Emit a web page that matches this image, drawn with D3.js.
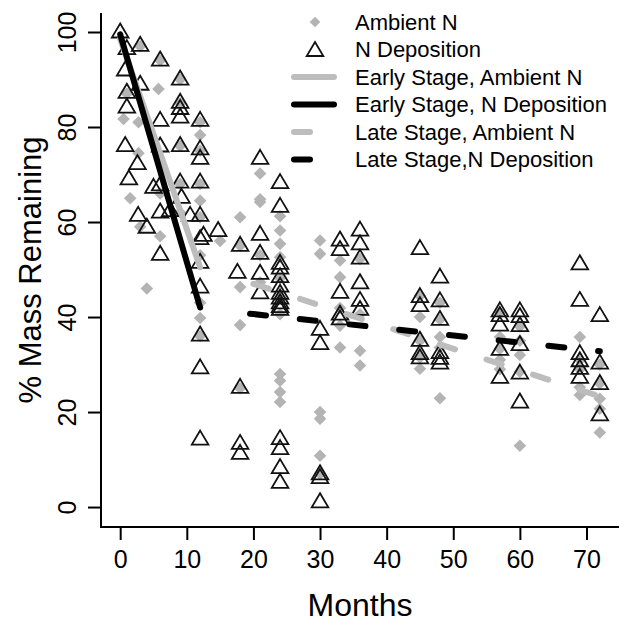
<!DOCTYPE html>
<html>
<head>
<meta charset="utf-8">
<script src="https://cdn.jsdelivr.net/npm/d3@7"></script>
<style>
  body { margin: 0; background: #fff; }
  svg { font-family: "Liberation Sans", Arial, sans-serif; }
</style>
</head>
<body>
<div id="chart"></div>
<script>
// Ambient N litter bags: [month, % mass remaining]
const ambientN = [
  [3, 97], [6, 94], [9, 90], [1, 87], [5.75, 88], [9, 85], [0.5, 81.7], [2.75, 81], [12, 81],
  [12, 78.3], [9, 76], [12, 75], [2.75, 74.5], [9, 68], [12, 68], [6, 66], [1.5, 65], [12, 64.5],
  [9, 62], [12, 61], [3, 59], [6, 57], [12, 53], [4, 46], [12, 43], [12, 39.8], [12, 36],
  [15, 56], [18, 61], [18, 55], [18, 46.3], [18, 38.3], [18, 25],
  [21, 70.2], [21, 64.8], [21, 64.2], [21, 53], [21, 47.3],
  [24, 61.2], [24, 58.2], [24, 55.4], [24, 52.6], [24, 48.2], [24, 44], [24, 40.6],
  [24, 28], [24, 26.6], [24, 24.2], [24, 22.1],
  [30, 56.1], [30, 53.3], [30, 20], [30, 18.6], [30, 10.8], [30, 7],
  [33, 51.9], [33, 48.4], [33, 41.9], [33, 38.2], [33, 33.6],
  [36, 52.2], [36, 40.6], [36, 32.9], [36, 29.8],
  [45, 44.5], [45, 40], [45, 35], [45, 31.5], [45, 29.1],
  [48, 43], [48, 39.5], [48, 35.8], [48, 33.6], [48, 22.9],
  [57, 41], [57, 35.8], [57, 33.3], [57, 31], [57, 29],
  [60, 38], [60, 35], [60, 32], [60, 28.5], [60, 12.9],
  [69, 35.8], [69, 31], [69, 29], [69, 25.2], [69, 23.6],
  [72, 30], [72, 26], [72, 22.8], [72, 20.7], [72, 15.7]
];

// N Deposition litter bags
const nDeposition = [
  [0, 100], [1, 96.5], [3, 97.2], [6, 94.1], [0.75, 92], [3, 89], [9, 90.1], [1, 87.3],
  [1, 84.2], [9, 85.2], [9, 83.9], [9, 82.1], [6, 81.4], [12, 81.4], [0.75, 76.1], [6, 76],
  [9, 76.1], [12, 75.4], [12, 73.4], [2.6, 72.3], [1.3, 69.1], [5, 67.3], [6, 67.8],
  [9, 68.4], [12, 68.4], [9.2, 65.2], [2.7, 61.4], [6, 62.1], [7.5, 62.4], [10.5, 61.4],
  [12, 61.4], [4, 58.9], [14.7, 58.2], [12.5, 57.2], [12, 56.5], [6, 53.2], [12, 51.5],
  [12, 46.3], [12, 36.2], [12, 29.3], [12, 14.3],
  [18, 55.1], [17.6, 49.4], [18, 25.2], [18, 13.4], [18, 11.3],
  [21, 73.4], [21, 57.4], [21, 53.4], [21, 49.2], [21, 45.1],
  [24, 68.3], [24, 63.3], [24, 51.3], [24, 50.3], [24, 48.5], [24, 46.5], [24, 45],
  [24, 44], [24, 43], [24, 42.2], [24, 41.6], [24, 14.4], [24, 12.3], [24, 8.3], [24, 5.2],
  [30, 37.4], [30, 34.4], [30, 7], [30, 6.2], [30, 1.1],
  [33, 56.2], [33, 54.2], [33, 45.2], [33, 40.6], [33, 39.6],
  [36, 58.3], [36, 55.4], [36, 52.4], [36, 47.2], [36, 43.5], [36, 41.6],
  [45, 54.4], [45, 44.3], [45, 42.4], [45, 35.1], [45, 32.3], [45, 31.4],
  [48, 48.4], [48, 43.4], [48, 39.5], [48, 32.5], [48, 31.3], [48, 30.3],
  [57, 41.3], [57, 40.3], [57, 38.3], [57, 33.2], [57, 27.3],
  [60, 41.3], [60, 40.1], [60, 38.2], [60, 34.2], [60, 28.2], [60, 22.1],
  [69, 51.2], [69, 43.5], [69, 32.3], [69, 30.8], [69, 29.2], [69, 27.3],
  [72, 40.3], [72, 30.3], [72, 26], [72, 19.4]
];

// fitted lines: [month, % mass remaining] end points
const earlyAmbient = [[0, 98.5], [12, 50.5]];
const earlyNDep = [[0, 99.5], [12, 42]];
const lateAmbient = [[20, 47], [72, 23.3]];
const lateNDep = [[19.5, 40.7], [72, 32.8]];

const xTicks = [0, 10, 20, 30, 40, 50, 60, 70];
const yTicks = [0, 20, 40, 60, 80, 100];

const legendLabels = [
  'Ambient N', 'N Deposition', 'Early Stage, Ambient N',
  'Early Stage, N Deposition', 'Late Stage, Ambient N', 'Late Stage,N Deposition'
];

const width = 619, height = 624;
const grey = '#b4b4b4';
const lineGrey = '#bdbdbd';

const svg = d3.select('#chart').append('svg')
  .attr('width', width)
  .attr('height', height);

const x = d3.scaleLinear().domain([-2.88, 74.88]).range([101, 619]);
const y = d3.scaleLinear().domain([-4.2, 104]).range([527, 13]);

const diamond = 'M0,-6.3L6.3,0L0,6.3L-6.3,0Z';
const triangle = 'M0,-8.5L8.3,5.5L-8.3,5.5Z';

// L shaped box
svg.append('path')
  .attr('d', `M${x.range()[0]},${y.range()[1]}V${y.range()[0]}H${x.range()[1]}`)
  .attr('fill', 'none')
  .attr('stroke', '#000')
  .attr('stroke-width', 2);

const xAxis = svg.append('g')
  .attr('transform', `translate(0,${y.range()[0]})`)
  .call(d3.axisBottom(x).tickValues(xTicks).tickSize(13).tickPadding(10));
xAxis.select('.domain').remove();
xAxis.selectAll('line').attr('stroke-width', 2);
xAxis.selectAll('text').attr('font-size', 25).attr('fill', '#000')
  .style('font-family', '"Liberation Sans", Arial, sans-serif');

const yAxis = svg.append('g')
  .attr('transform', `translate(${x.range()[0]},0)`)
  .call(d3.axisLeft(y).tickValues(yTicks).tickSize(13));
yAxis.select('.domain').remove();
yAxis.selectAll('line').attr('stroke-width', 2);
yAxis.selectAll('text')
  .attr('font-size', 25).attr('fill', '#000')
  .style('font-family', '"Liberation Sans", Arial, sans-serif')
  .attr('transform', 'rotate(-90)')
  .attr('text-anchor', 'middle')
  .attr('x', 0).attr('y', -25).attr('dy', 0);

svg.append('text')
  .attr('x', (x.range()[0] + x.range()[1]) / 2)
  .attr('y', 616)
  .attr('text-anchor', 'middle')
  .attr('font-size', 32)
  .text('Months');

svg.append('text')
  .attr('transform', `translate(41,${(y.range()[0] + y.range()[1]) / 2}) rotate(-90)`)
  .attr('text-anchor', 'middle')
  .attr('font-size', 31)
  .text('% Mass Remaining');

// points
svg.append('g').selectAll('path')
  .data(ambientN)
  .join('path')
  .attr('d', diamond)
  .attr('transform', d => `translate(${x(d[0])},${y(d[1])})`)
  .attr('fill', grey);

svg.append('g').selectAll('path')
  .data(nDeposition)
  .join('path')
  .attr('d', triangle)
  .attr('transform', d => `translate(${x(d[0])},${y(d[1])})`)
  .attr('fill', 'none')
  .attr('stroke', '#111')
  .attr('stroke-width', 1.8);

// fitted lines
const line = d3.line().x(d => x(d[0])).y(d => y(d[1]));
const fits = [
  { data: earlyAmbient, color: lineGrey, dash: null },
  { data: earlyNDep, color: '#000', dash: null },
  { data: lateAmbient, color: lineGrey, dash: '16,33' },
  { data: lateNDep, color: '#000', dash: '16,34' }
];
svg.append('g').selectAll('path')
  .data(fits)
  .join('path')
  .attr('d', d => line(d.data))
  .attr('fill', 'none')
  .attr('stroke', d => d.color)
  .attr('stroke-width', 6)
  .attr('stroke-linecap', 'round')
  .attr('stroke-dasharray', d => d.dash);

// legend
const legend = svg.append('g');
const rowY = i => 22 + i * 27.5;
legend.selectAll('text')
  .data(legendLabels)
  .join('text')
  .attr('x', 355)
  .attr('y', (d, i) => rowY(i))
  .attr('dy', '0.36em')
  .attr('font-size', 22)
  .text(d => d);

legend.append('path').attr('d', diamond)
  .attr('transform', `translate(315,${rowY(0)}) scale(0.85)`)
  .attr('fill', grey);
legend.append('path').attr('d', triangle)
  .attr('transform', `translate(315,${rowY(1) + 1})`)
  .attr('fill', 'none').attr('stroke', '#111').attr('stroke-width', 1.8);

fits.forEach((f, i) => {
  legend.append('line')
    .attr('x1', 294).attr('x2', 334)
    .attr('y1', rowY(i + 2)).attr('y2', rowY(i + 2))
    .attr('stroke', f.color)
    .attr('stroke-width', 6)
    .attr('stroke-linecap', 'round')
    .attr('stroke-dasharray', f.dash);
});
</script>
</body>
</html>
